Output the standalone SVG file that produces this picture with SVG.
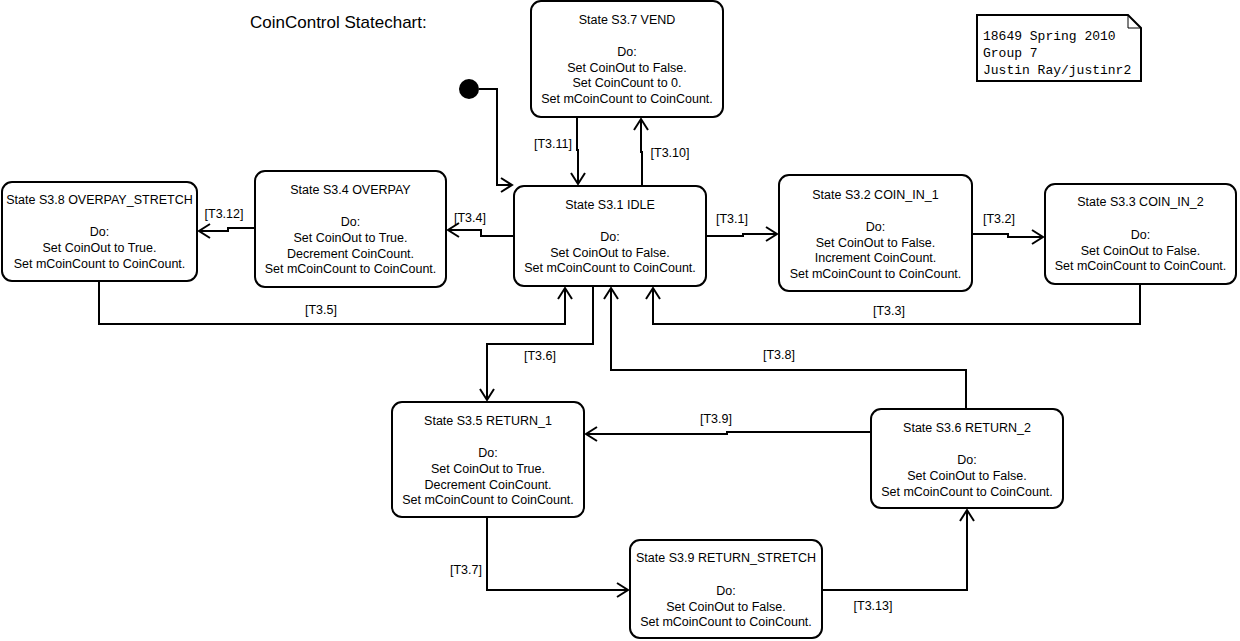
<svg xmlns="http://www.w3.org/2000/svg" width="1240" height="641" viewBox="0 0 1240 641">
<style>
.box{fill:#fff;stroke:#000;stroke-width:2}
.t{font-family:"Liberation Sans",Arial,sans-serif;font-size:12.5px;text-anchor:middle;fill:#000}
.lbl{font-family:"Liberation Sans",Arial,sans-serif;font-size:12.5px;text-anchor:middle;fill:#000}
.c{fill:none;stroke:#000;stroke-width:2}
.mono{font-family:"Liberation Mono","Courier New",monospace;font-size:13px;fill:#000}
</style>
<defs>
<marker id="arr" markerWidth="14" markerHeight="16" refX="12" refY="8" orient="auto" markerUnits="userSpaceOnUse">
<path d="M1,1 L12,8 L1,15" fill="none" stroke="#000" stroke-width="2"/>
</marker>
</defs>
<rect width="1240" height="641" fill="#fff"/>
<text x="250" y="28" font-family="Liberation Sans,Arial,sans-serif" font-size="17">CoinControl Statechart:</text>

<g id="note">
<path d="M977,15 H1128 L1141,28 V81 H977 Z" fill="#fff" stroke="#000" stroke-width="2"/>
<path d="M1128,15 V28 H1141" fill="none" stroke="#000" stroke-width="1"/>
<text class="mono" x="983" y="40">18649 Spring 2010</text>
<text class="mono" x="983" y="57">Group 7</text>
<text class="mono" x="983" y="74">Justin Ray/justinr2</text>
</g>

<g id="initial"><circle cx="469" cy="89" r="10" fill="#000"/></g>

<g id="connectors">
<path class="c" d="M479,89 H497 V185 H512" marker-end="url(#arr)"/>
<path class="c" d="M577,117 V150 H578 V184" marker-end="url(#arr)"/>
<path class="c" d="M642,186 V152 H641 V119" marker-end="url(#arr)"/>
<path class="c" d="M514,236 H481 V230 H448" marker-end="url(#arr)"/>
<path class="c" d="M255,228 H228 V231 H199" marker-end="url(#arr)"/>
<path class="c" d="M706,236 H743 V234 H777" marker-end="url(#arr)"/>
<path class="c" d="M972,234 H1008 V237 H1043" marker-end="url(#arr)"/>
<path class="c" d="M99,281 V324 H565 V288" marker-end="url(#arr)"/>
<path class="c" d="M1140,284 V324 H653 V288" marker-end="url(#arr)"/>
<path class="c" d="M593,286 V344 H487 V400" marker-end="url(#arr)"/>
<path class="c" d="M966,409 V370 H611 V288" marker-end="url(#arr)"/>
<path class="c" d="M871,432 H727 V434 H586" marker-end="url(#arr)"/>
<path class="c" d="M487,517 V590 H628" marker-end="url(#arr)"/>
<path class="c" d="M822,590 H967 V510" marker-end="url(#arr)"/>
<text class="lbl" x="553" y="148">[T3.11]</text>
<text class="lbl" x="670" y="157">[T3.10]</text>
<text class="lbl" x="224" y="218">[T3.12]</text>
<text class="lbl" x="470" y="222">[T3.4]</text>
<text class="lbl" x="732" y="223">[T3.1]</text>
<text class="lbl" x="999" y="223">[T3.2]</text>
<text class="lbl" x="321" y="314">[T3.5]</text>
<text class="lbl" x="889" y="315">[T3.3]</text>
<text class="lbl" x="540" y="360">[T3.6]</text>
<text class="lbl" x="779" y="359">[T3.8]</text>
<text class="lbl" x="716" y="423">[T3.9]</text>
<text class="lbl" x="466" y="574">[T3.7]</text>
<text class="lbl" x="873" y="610">[T3.13]</text>
</g>

<g id="S3.7">
<rect class="box" x="531" y="1" width="192" height="116" rx="10"/>
<text class="t" x="627" y="24">State S3.7 VEND</text>
<text class="t" x="627" y="56">Do:</text>
<text class="t" x="627" y="71.5">Set CoinOut to False.</text>
<text class="t" x="627" y="87">Set CoinCount to 0.</text>
<text class="t" x="627" y="103">Set mCoinCount to CoinCount.</text>
</g>

<g id="S3.1">
<rect class="box" x="514" y="186" width="192" height="100" rx="10"/>
<text class="t" x="610" y="209">State S3.1 IDLE</text>
<text class="t" x="610" y="241">Do:</text>
<text class="t" x="610" y="256.5">Set CoinOut to False.</text>
<text class="t" x="610" y="272">Set mCoinCount to CoinCount.</text>
</g>

<g id="S3.2">
<rect class="box" x="779" y="175" width="193" height="116" rx="10"/>
<text class="t" x="875.5" y="199">State S3.2 COIN_IN_1</text>
<text class="t" x="875.5" y="231">Do:</text>
<text class="t" x="875.5" y="246.5">Set CoinOut to False.</text>
<text class="t" x="875.5" y="262">Increment CoinCount.</text>
<text class="t" x="875.5" y="277.5">Set mCoinCount to CoinCount.</text>
</g>

<g id="S3.3">
<rect class="box" x="1045" y="184" width="191" height="100" rx="10"/>
<text class="t" x="1140.5" y="206">State S3.3 COIN_IN_2</text>
<text class="t" x="1140.5" y="239">Do:</text>
<text class="t" x="1140.5" y="254.5">Set CoinOut to False.</text>
<text class="t" x="1140.5" y="270">Set mCoinCount to CoinCount.</text>
</g>

<g id="S3.4">
<rect class="box" x="255" y="171" width="191" height="116" rx="10"/>
<text class="t" x="350.5" y="194">State S3.4 OVERPAY</text>
<text class="t" x="350.5" y="226">Do:</text>
<text class="t" x="350.5" y="242">Set CoinOut to True.</text>
<text class="t" x="350.5" y="257.5">Decrement CoinCount.</text>
<text class="t" x="350.5" y="273">Set mCoinCount to CoinCount.</text>
</g>

<g id="S3.8">
<rect class="box" x="2" y="182" width="195" height="99" rx="10"/>
<text class="t" x="99.5" y="204">State S3.8 OVERPAY_STRETCH</text>
<text class="t" x="99.5" y="236">Do:</text>
<text class="t" x="99.5" y="252">Set CoinOut to True.</text>
<text class="t" x="99.5" y="267.5">Set mCoinCount to CoinCount.</text>
</g>

<g id="S3.5">
<rect class="box" x="392" y="402" width="192" height="115" rx="10"/>
<text class="t" x="488" y="425">State S3.5 RETURN_1</text>
<text class="t" x="488" y="457">Do:</text>
<text class="t" x="488" y="473">Set CoinOut to True.</text>
<text class="t" x="488" y="488.5">Decrement CoinCount.</text>
<text class="t" x="488" y="504">Set mCoinCount to CoinCount.</text>
</g>

<g id="S3.6">
<rect class="box" x="871" y="409" width="192" height="99" rx="10"/>
<text class="t" x="967" y="432">State S3.6 RETURN_2</text>
<text class="t" x="967" y="464">Do:</text>
<text class="t" x="967" y="480">Set CoinOut to False.</text>
<text class="t" x="967" y="495.5">Set mCoinCount to CoinCount.</text>
</g>

<g id="S3.9">
<rect class="box" x="630" y="540" width="192" height="98" rx="10"/>
<text class="t" x="726" y="562">State S3.9 RETURN_STRETCH</text>
<text class="t" x="726" y="595">Do:</text>
<text class="t" x="726" y="610.5">Set CoinOut to False.</text>
<text class="t" x="726" y="626">Set mCoinCount to CoinCount.</text>
</g>
</svg>
